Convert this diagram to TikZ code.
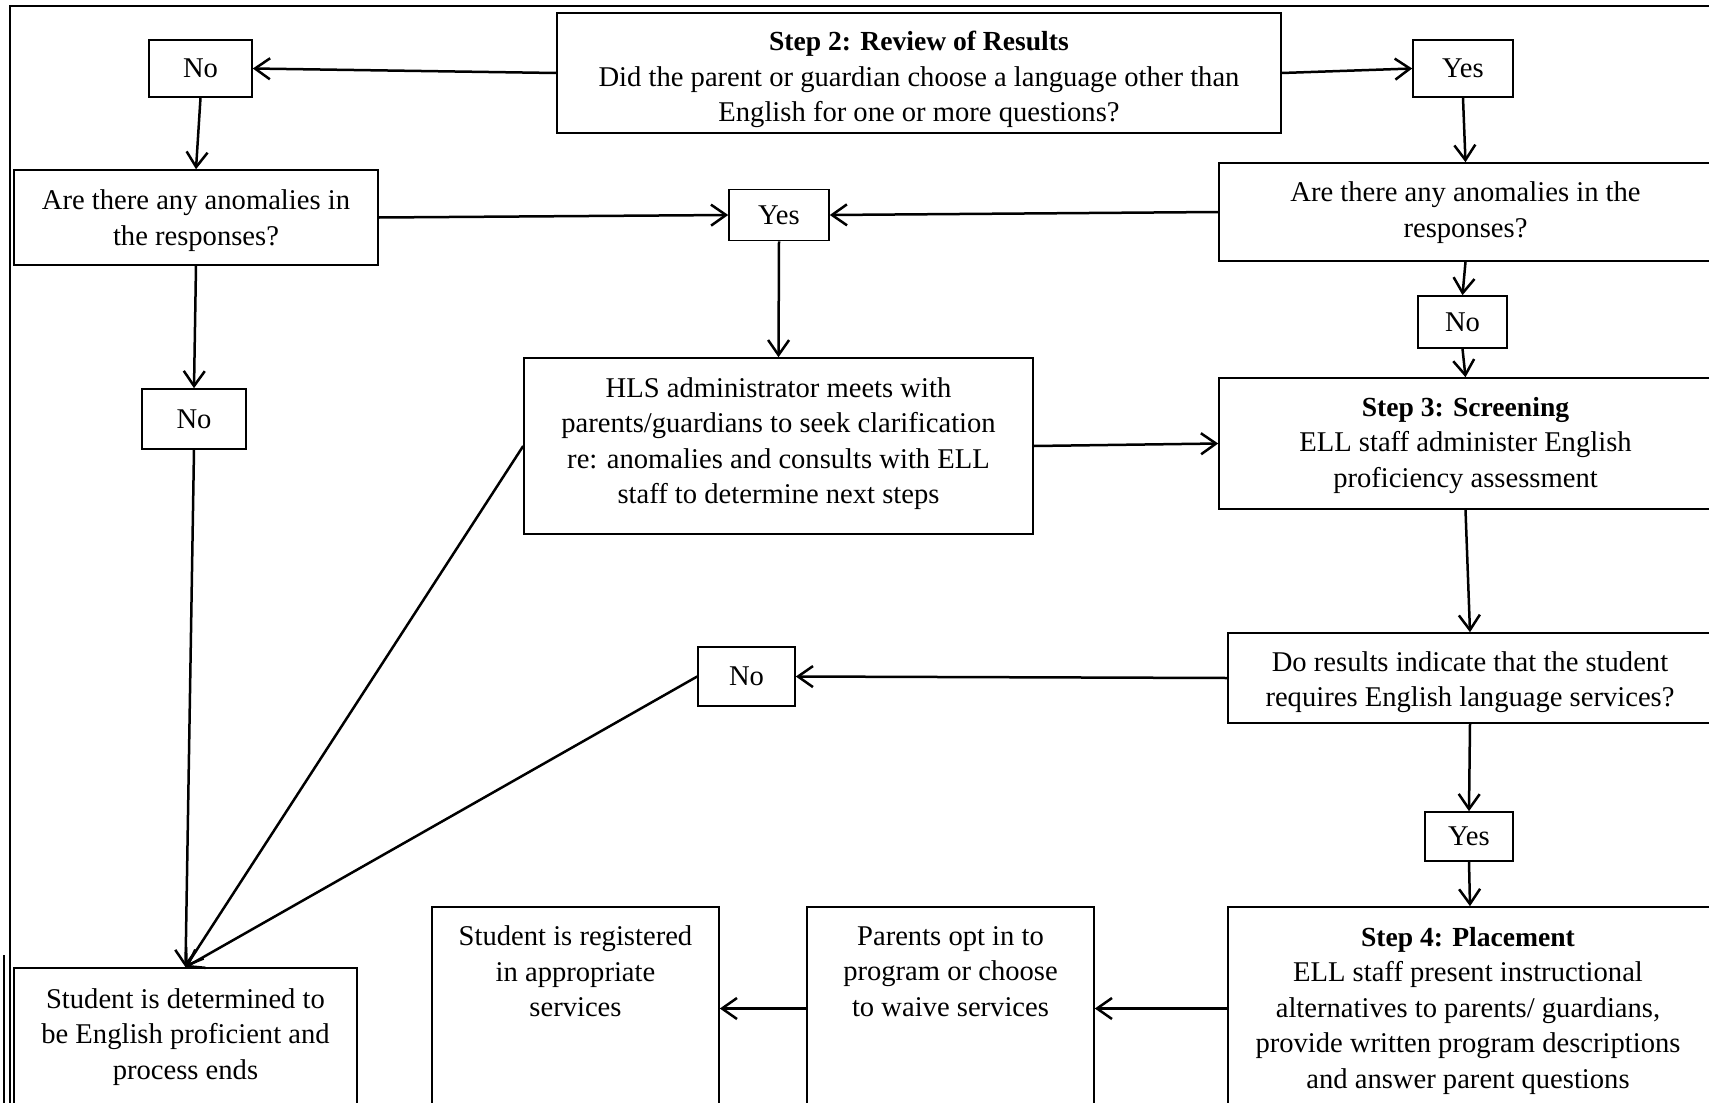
\documentclass[tikz,border=0pt]{standalone}
\usepackage{fontspec}
\setmainfont{Liberation Serif}
\usetikzlibrary{arrows.meta}
\newcommand{\steptitle}[1]{{\fontsize{27.6}{35.5}\selectfont\bfseries #1}}
\begin{document}
\begin{tikzpicture}[x=1pt,y=-1pt,
  box/.style={draw, line width=1.6pt, inner sep=0pt, rectangle, align=center, font=\fontsize{28.6}{35.5}\selectfont},
  txt/.style={align=center, font=\fontsize{28.6}{35.5}\selectfont, inner sep=0pt},
  arr/.style={line width=2.5pt, -{Straight Barb[length=15pt,width=21pt]}},
  frame/.style={line width=2.5pt}]
\useasboundingbox (0,0) rectangle (1709,1103);
\fill[white] (0,0) rectangle (1709,1103);
\clip (0,0) rectangle (1709,1103);
% frame
\coordinate (ftl) at (10,6);
\coordinate (ftr) at (1712,6);
\coordinate (fbl) at (10,1106);
\draw[frame] (ftr) -- (ftl) -- (fbl);
\coordinate (f2t) at (4,955);
\coordinate (f2b) at (4,1106);
\draw[line width=1.2pt] (f2t) -- (f2b);
% boxes
\node[box, minimum width=103, minimum height=57] (no1) at (200.5,68.5) {No};
\node[box, minimum width=724, minimum height=120] (step2) at (919,73) {};
\node[txt] (step2t) at (919,79.5)
  {\steptitle{Step 2: Review of Results}\\Did the parent or guardian choose a language other than\\English for one or more questions?};
\node[box, minimum width=100, minimum height=57] (yes1) at (1463,68.5) {Yes};
\node[box, minimum width=364, minimum height=95] (qleft) at (196,217.5) {};
\node[txt] (qleftt) at (196,220.5) {Are there any anomalies in\\the responses?};
\node[box, minimum width=100, minimum height=51] (yes2) at (779,215) {Yes};
\node[box, minimum width=493, minimum height=98] (qright) at (1465.5,212) {};
\node[txt] (qrightt) at (1465.5,212.5) {Are there any anomalies in the\\responses?};
\node[box, minimum width=89, minimum height=52] (no2) at (1462.5,322) {No};
\node[box, minimum width=509, minimum height=176] (hls) at (778.5,446) {};
\node[txt] (hlst) at (778.5,443.5) {HLS administrator meets with\\parents/guardians to seek clarification\\re: anomalies and consults with ELL\\staff to determine next steps};
\node[box, minimum width=493, minimum height=131] (step3) at (1465.5,443.5) {};
\node[txt] (step3t) at (1465.5,445.5)
  {\steptitle{Step 3: Screening}\\ELL staff administer English\\proficiency assessment};
\node[box, minimum width=104, minimum height=60] (no3) at (194,419) {No};
\node[box, minimum width=484, minimum height=90] (q3) at (1470,678) {};
\node[txt] (q3t) at (1470,682)
  {Do results indicate that the student\\requires English language services?};
\node[box, minimum width=97, minimum height=59] (no4) at (746.5,676.5) {No};
\node[box, minimum width=88, minimum height=49] (yes3) at (1469,836.5) {Yes};
\node[box, minimum width=484, minimum height=203] (step4) at (1470,1008.5) {};
\node[txt] (step4t) at (1468,1010.5) {\steptitle{Step 4: Placement}\\ELL staff present instructional\\alternatives to parents/ guardians,\\provide written program descriptions\\and answer parent questions};
\node[box, minimum width=287, minimum height=203] (parents) at (950.5,1008.5) {};
\node[txt] (parentst) at (950.5,971.5) {Parents opt in to\\program or choose\\to waive services};
\node[box, minimum width=287, minimum height=203] (reg) at (575.5,1008.5) {};
\node[txt] (regt) at (575.5,971.5) {Student is registered\\in appropriate\\services};
\node[box, minimum width=343, minimum height=142] (stud) at (185.5,1039) {};
\node[txt] (studt) at (185.5,1037) {Student is determined to\\be English proficient and\\process ends};
% connectors
\draw[arr] (step2.west) -- (no1.east);
\draw[arr] (step2.east) -- (yes1.west);
\draw[arr] (no1.south) -- (qleft.north);
\draw[arr] (yes1.south) -- (qright.north);
\draw[arr] (qleft.east) -- (yes2.west);
\draw[arr] (qright.west) -- (yes2.east);
\draw[arr] (qleft.south) -- (no3.north);
\draw[arr] (qright.south) -- (no2.north);
\draw[arr] (no2.south) -- (step3.north);
\draw[arr] (yes2.south) -- (hls.north);
\draw[arr] (hls.east) -- (step3.west);
\draw[arr] (hls.west) -- (stud.north);
\draw[arr] (no3.south) -- (stud.north);
\draw[arr] (no4.west) -- (stud.north);
\draw[arr] (step3.south) -- (q3.north);
\draw[arr] (q3.west) -- (no4.east);
\draw[arr] (q3.south) -- (yes3.north);
\draw[arr] (yes3.south) -- (step4.north);
\draw[arr] (step4.west) -- (parents.east);
\draw[arr] (parents.west) -- (reg.east);
\end{tikzpicture}
\end{document}
